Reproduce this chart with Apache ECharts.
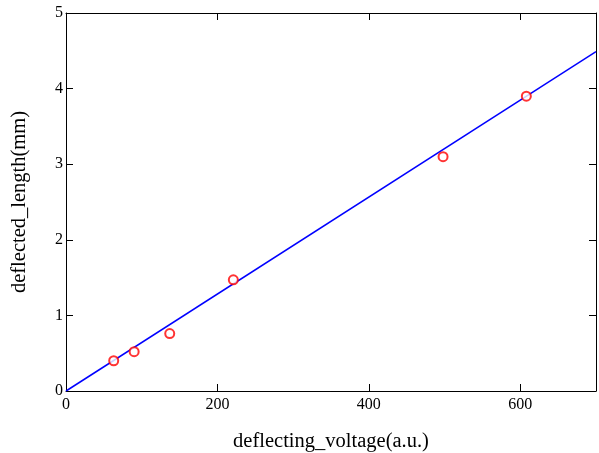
<!DOCTYPE html>
<html>
<head>
<meta charset="utf-8">
<script src="https://cdn.jsdelivr.net/npm/echarts@6/dist/echarts.min.js"></script>
<style>html,body{margin:0;padding:0;background:#fff}#c{width:599px;height:453px}</style>
</head>
<body>
<div id="c"></div>
<script>
var voltage = [63, 90, 137, 221, 498, 608];
var deflection = [0.40, 0.52, 0.76, 1.47, 3.10, 3.90];
var fitX = [0, 700];
var fitY = [0, 4.49];
var xTicks = [0, 200, 400, 600];
var yTicks = [0, 1, 2, 3, 4, 5];

var font = 'Liberation Serif';
var chart = echarts.init(document.getElementById('c'));
var axisLine = {show: true, onZero: false, lineStyle: {color: '#000', width: 1}};
var tick = {show: true, inside: true, length: 7, lineStyle: {color: '#000', width: 1}};
chart.setOption({
  animation: false,
  grid: {left: 66, right: 3, top: 13, bottom: 62, outerBoundsMode: 'none', containLabel: false},
  xAxis: [{
    type: 'value', min: 0, max: 700, interval: 200, position: 'bottom',
    axisLine: axisLine, axisTick: tick, splitLine: {show: false},
    axisLabel: {color: '#000', fontFamily: font, fontSize: 16, margin: 6,
      formatter: function (v) { return xTicks.indexOf(v) >= 0 ? String(v) : ''; }},
    name: 'deflecting_voltage(a.u.)', nameLocation: 'middle', nameGap: 40,
    nameTextStyle: {color: '#000', fontFamily: font, fontSize: 20.5}
  }, {
    type: 'value', min: 0, max: 700, interval: 200, position: 'top',
    axisLine: axisLine, axisTick: tick, splitLine: {show: false},
    axisLabel: {show: false}
  }],
  yAxis: [{
    type: 'value', min: 0, max: 5, interval: 1, position: 'left',
    axisLine: axisLine, axisTick: tick, splitLine: {show: false},
    axisLabel: {color: '#000', fontFamily: font, fontSize: 16, margin: 3,
      formatter: function (v) { return yTicks.indexOf(v) >= 0 ? String(v) : ''; }},
    name: 'deflected_length(mm)', nameLocation: 'middle', nameGap: 36,
    nameTextStyle: {color: '#000', fontFamily: font, fontSize: 20.5}
  }, {
    type: 'value', min: 0, max: 5, interval: 1, position: 'right',
    axisLine: axisLine, axisTick: tick, splitLine: {show: false},
    axisLabel: {show: false}
  }],
  series: [{
    type: 'line',
    data: fitX.map(function (x, i) { return [x, fitY[i]]; }),
    showSymbol: false, symbol: 'none',
    lineStyle: {color: '#0000ff', width: 1.5},
    z: 2
  }, {
    type: 'scatter',
    data: voltage.map(function (x, i) { return [x, deflection[i]]; }),
    symbol: 'emptyCircle', symbolSize: 9,
    itemStyle: {color: '#ff0000', borderColor: '#ff0000', borderWidth: 0.9},
    z: 3
  }]
});
</script>
</body>
</html>
